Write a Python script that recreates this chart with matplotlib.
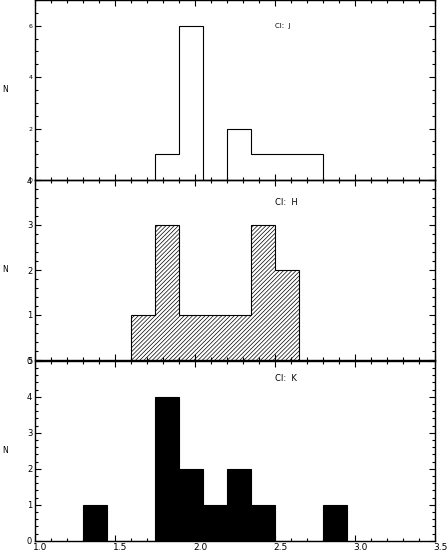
import numpy as np
import matplotlib
matplotlib.use('Agg')
import matplotlib.pyplot as plt
import matplotlib.transforms as mtrans
from matplotlib.ticker import MultipleLocator

#==============================================================================
#                         Data (histograms of colour index)
#==============================================================================
edges_J  = [1.75, 1.90, 2.05, 2.20, 2.35, 2.50, 2.65, 2.80]
counts_J = [1, 6, 0, 2, 1, 1, 1]

edges_H  = [1.60, 1.75, 1.90, 2.05, 2.20, 2.35, 2.50, 2.65]
counts_H = [1, 3, 1, 1, 1, 3, 2]

edges_K  = [1.30, 1.45, 1.60, 1.75, 1.90, 2.05, 2.20, 2.35, 2.50, 2.65, 2.80, 2.95]
counts_K = [1, 0, 0, 4, 2, 1, 2, 1, 0, 0, 1]

labels = ['CI:  J', 'CI:  H', 'CI:  K']
ymax   = [7, 4, 5]

#==============================================================================
#                         Plotting
#==============================================================================
plt.rcParams['font.family'] = ['DejaVu Sans']
plt.rcParams['hatch.linewidth'] = 0.5

W, H = 448, 552
fig = plt.figure(figsize=(W/100., H/100.), dpi=100)

left  = 35./W
width = 400./W
ph    = 180./H
bots  = [1 - 180./H, 1 - 360./H, 1 - 540.7/H]

axes = [fig.add_axes([left, b, width, ph]) for b in bots]

# J : open outline
axes[0].stairs(counts_J, edges_J, baseline=0, fill=False, color='k', lw=0.8)
# H : hatched
axes[1].stairs(counts_H, edges_H, baseline=0, fill=True, facecolor='white',
               edgecolor='k', hatch='////////', lw=0.8)
# K : solid black
axes[2].stairs(counts_K, edges_K, baseline=0, fill=True, facecolor='k',
               edgecolor='k', lw=0.8)

txt_y  = [6, 3.5, 4.5]
txt_fs = [5, 6, 6]
lab_fs = [4.5, 6, 6]
minors = [0.5, 0.2, 0.2]
majors = [2, 1, 1]

for i, ax in enumerate(axes):
    ax.set_xlim(1.0, 3.5)
    ax.set_ylim(0, ymax[i])
    ax.xaxis.set_major_locator(MultipleLocator(0.5))
    ax.xaxis.set_minor_locator(MultipleLocator(0.1))
    ax.yaxis.set_major_locator(MultipleLocator(majors[i]))
    ax.yaxis.set_minor_locator(MultipleLocator(minors[i]))
    ax.tick_params(which='both', direction='in', top=True, right=True,
                   width=0.8, pad=2)
    ax.tick_params(which='major', length=4.5)
    ax.tick_params(which='minor', length=2.5)
    ax.tick_params(axis='y', labelsize=lab_fs[i])
    ax.tick_params(axis='x', labelsize=6.5)
    if i < 2:
        ax.tick_params(axis='x', labelbottom=False)
    for s in ax.spines.values():
        s.set_linewidth(1.0)
    ax.text(2.5, txt_y[i], labels[i], fontsize=txt_fs[i], va='center', ha='left')
    ax.set_ylabel('N', rotation=0, fontsize=5.5, va='center', ha='center')
    ax.yaxis.set_label_coords(-0.075, 0.5)
    ax.patch.set_alpha(0)

# x labels start just left of the tick, as in the original plot
shift = mtrans.ScaledTranslation(-2/100., 0, fig.dpi_scale_trans)
for lab in axes[2].get_xticklabels():
    lab.set_horizontalalignment('left')
    lab.set_transform(lab.get_transform() + shift)

fig.savefig('out.png', dpi=100)
